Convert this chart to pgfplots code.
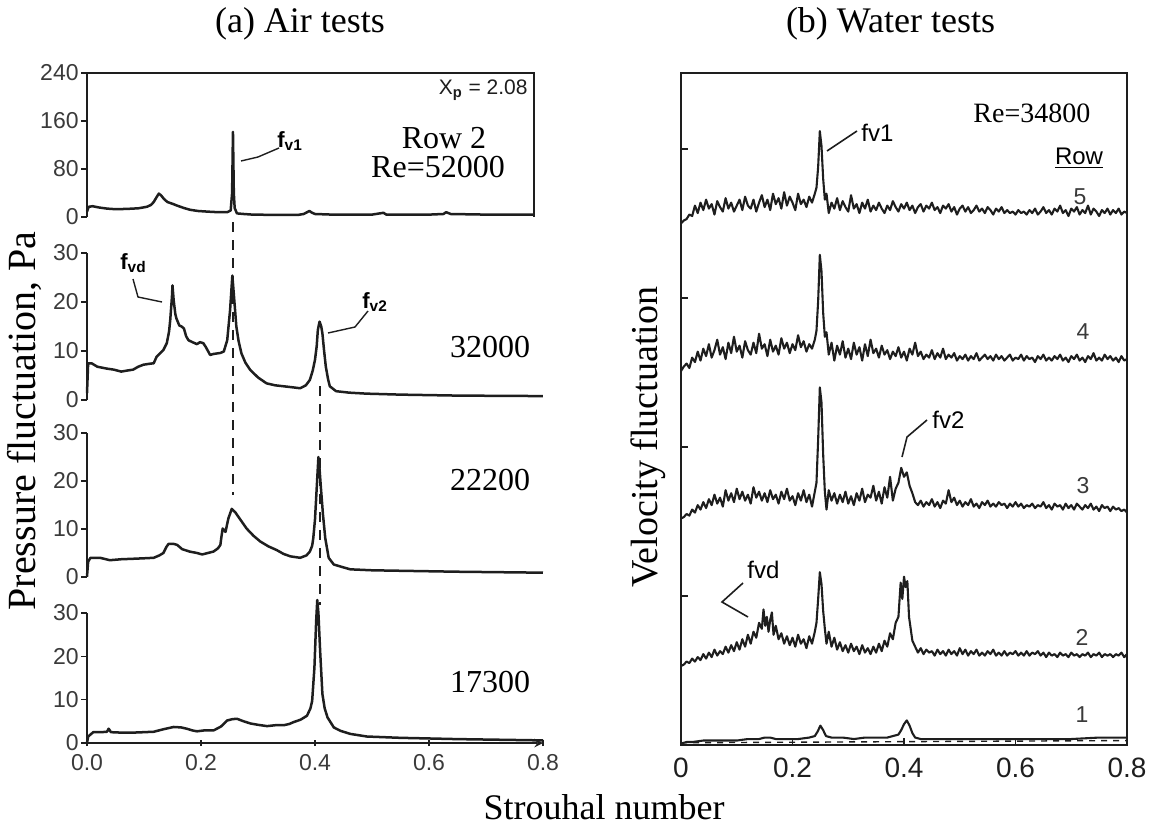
\documentclass[border=0pt]{standalone}
\usepackage{fontspec}
\setmainfont{Liberation Serif}
\newfontfamily\arial{Liberation Sans}
\usepackage{pgfplots}
\usepackage{pgfplotstable}
\pgfplotsset{compat=1.18}
\definecolor{ink}{HTML}{1E1E1E}
\definecolor{tickc}{HTML}{3A3A3A}

\pgfplotstableread{
x y
0 3.50
0.005 3.52
0.01 3.53
0.015 3.56
0.02 3.55
0.025 3.62
0.03 3.57
0.035 3.64
0.04 3.59
0.045 3.66
0.05 3.60
0.055 3.63
0.06 3.56
0.065 3.65
0.07 3.61
0.075 3.58
0.08 3.67
0.085 3.60
0.09 3.64
0.095 3.58
0.1 3.62
0.105 3.66
0.11 3.59
0.115 3.68
0.12 3.62
0.125 3.60
0.13 3.66
0.135 3.58
0.14 3.64
0.145 3.69
0.15 3.61
0.155 3.66
0.16 3.59
0.165 3.70
0.17 3.63
0.175 3.67
0.18 3.60
0.185 3.71
0.19 3.62
0.195 3.68
0.2 3.64
0.205 3.59
0.21 3.70
0.215 3.63
0.22 3.66
0.225 3.61
0.23 3.68
0.235 3.64
0.24 3.70
0.243 3.74
0.246 3.88
0.249 4.12
0.252 4.02
0.255 3.80
0.258 3.66
0.261 3.70
0.265 3.57
0.27 3.64
0.275 3.60
0.28 3.67
0.285 3.59
0.29 3.65
0.295 3.61
0.3 3.58
0.305 3.69
0.31 3.60
0.315 3.63
0.32 3.57
0.325 3.64
0.33 3.60
0.335 3.66
0.34 3.58
0.345 3.62
0.35 3.59
0.355 3.64
0.36 3.60
0.365 3.57
0.37 3.62
0.375 3.59
0.38 3.65
0.385 3.61
0.39 3.58
0.395 3.63
0.4 3.60
0.405 3.64
0.41 3.59
0.415 3.62
0.42 3.57
0.425 3.61
0.43 3.63
0.435 3.58
0.44 3.62
0.445 3.60
0.45 3.64
0.455 3.59
0.46 3.61
0.465 3.57
0.47 3.62
0.475 3.60
0.48 3.63
0.485 3.58
0.49 3.61
0.495 3.56
0.5 3.60
0.505 3.62
0.51 3.58
0.515 3.61
0.52 3.57
0.525 3.59
0.53 3.62
0.535 3.58
0.54 3.60
0.545 3.57
0.55 3.61
0.555 3.59
0.56 3.56
0.565 3.60
0.57 3.58
0.575 3.61
0.58 3.57
0.585 3.59
0.59 3.57
0.595 3.58
0.6 3.56
0.605 3.59
0.61 3.57
0.615 3.58
0.62 3.56
0.625 3.59
0.63 3.57
0.635 3.60
0.64 3.56
0.645 3.58
0.65 3.61
0.655 3.57
0.66 3.59
0.665 3.56
0.67 3.60
0.675 3.58
0.68 3.62
0.685 3.57
0.69 3.59
0.695 3.55
0.7 3.60
0.705 3.58
0.71 3.61
0.715 3.56
0.72 3.59
0.725 3.57
0.73 3.62
0.735 3.56
0.74 3.60
0.745 3.58
0.75 3.55
0.755 3.59
0.76 3.57
0.765 3.60
0.77 3.56
0.775 3.59
0.78 3.57
0.785 3.60
0.79 3.56
0.795 3.58
0.8 3.57
}\rowfive

\pgfplotstableread{
x y
0 2.51
0.005 2.54
0.01 2.56
0.015 2.53
0.02 2.60
0.025 2.57
0.03 2.64
0.035 2.58
0.04 2.66
0.045 2.61
0.05 2.69
0.055 2.60
0.06 2.65
0.065 2.72
0.07 2.62
0.075 2.67
0.08 2.59
0.085 2.70
0.09 2.63
0.095 2.74
0.1 2.64
0.105 2.68
0.11 2.60
0.115 2.71
0.12 2.65
0.125 2.62
0.13 2.70
0.135 2.63
0.14 2.76
0.145 2.66
0.15 2.69
0.155 2.61
0.16 2.72
0.165 2.64
0.17 2.68
0.175 2.62
0.18 2.73
0.185 2.66
0.19 2.70
0.195 2.63
0.2 2.69
0.205 2.65
0.21 2.75
0.215 2.67
0.22 2.71
0.225 2.64
0.23 2.69
0.235 2.66
0.24 2.72
0.243 2.78
0.246 2.98
0.249 3.29
0.252 3.18
0.255 2.90
0.258 2.74
0.261 2.77
0.265 2.62
0.27 2.70
0.275 2.58
0.28 2.68
0.285 2.62
0.29 2.71
0.295 2.60
0.3 2.66
0.305 2.59
0.31 2.70
0.315 2.62
0.32 2.67
0.325 2.58
0.33 2.69
0.335 2.61
0.34 2.72
0.345 2.63
0.35 2.66
0.355 2.60
0.36 2.68
0.365 2.62
0.37 2.65
0.375 2.59
0.38 2.64
0.385 2.61
0.39 2.67
0.395 2.60
0.4 2.64
0.405 2.58
0.41 2.66
0.415 2.62
0.42 2.70
0.425 2.61
0.43 2.64
0.435 2.59
0.44 2.62
0.445 2.60
0.45 2.65
0.455 2.59
0.46 2.63
0.465 2.60
0.47 2.66
0.475 2.59
0.48 2.62
0.485 2.60
0.49 2.63
0.495 2.58
0.5 2.61
0.505 2.59
0.51 2.62
0.515 2.58
0.52 2.61
0.525 2.59
0.53 2.63
0.535 2.58
0.54 2.60
0.545 2.62
0.55 2.59
0.555 2.61
0.56 2.58
0.565 2.62
0.57 2.59
0.575 2.61
0.58 2.58
0.585 2.60
0.59 2.62
0.595 2.58
0.6 2.60
0.605 2.59
0.61 2.62
0.615 2.58
0.62 2.61
0.625 2.59
0.63 2.60
0.635 2.57
0.64 2.61
0.645 2.59
0.65 2.62
0.655 2.58
0.66 2.60
0.665 2.58
0.67 2.61
0.675 2.59
0.68 2.62
0.685 2.58
0.69 2.60
0.695 2.57
0.7 2.61
0.705 2.59
0.71 2.62
0.715 2.58
0.72 2.60
0.725 2.57
0.73 2.61
0.735 2.59
0.74 2.63
0.745 2.58
0.75 2.60
0.755 2.58
0.76 2.62
0.765 2.59
0.77 2.61
0.775 2.58
0.78 2.60
0.785 2.57
0.79 2.61
0.795 2.58
0.8 2.59
}\rowfour

\pgfplotstableread{
x y
0 1.52
0.005 1.53
0.01 1.55
0.015 1.54
0.02 1.58
0.025 1.56
0.03 1.61
0.035 1.58
0.04 1.63
0.045 1.59
0.05 1.65
0.055 1.61
0.06 1.68
0.065 1.62
0.07 1.66
0.075 1.60
0.08 1.71
0.085 1.64
0.09 1.69
0.095 1.63
0.1 1.72
0.105 1.65
0.11 1.70
0.115 1.64
0.12 1.68
0.125 1.62
0.13 1.73
0.135 1.66
0.14 1.70
0.145 1.64
0.15 1.69
0.155 1.63
0.16 1.71
0.165 1.65
0.17 1.68
0.175 1.62
0.18 1.70
0.185 1.65
0.19 1.72
0.195 1.64
0.2 1.67
0.205 1.61
0.21 1.69
0.215 1.64
0.22 1.71
0.225 1.63
0.23 1.68
0.235 1.60
0.24 1.70
0.243 1.76
0.246 2.05
0.249 2.40
0.252 2.30
0.255 1.95
0.258 1.70
0.261 1.58
0.265 1.71
0.27 1.64
0.275 1.69
0.28 1.62
0.285 1.68
0.29 1.63
0.295 1.70
0.3 1.62
0.305 1.67
0.31 1.61
0.315 1.69
0.32 1.64
0.325 1.72
0.33 1.63
0.335 1.68
0.34 1.66
0.345 1.74
0.35 1.64
0.355 1.70
0.36 1.62
0.365 1.73
0.37 1.66
0.375 1.80
0.38 1.64
0.385 1.72
0.39 1.76
0.395 1.86
0.4 1.80
0.405 1.83
0.41 1.74
0.415 1.69
0.42 1.63
0.425 1.61
0.43 1.64
0.435 1.60
0.44 1.63
0.445 1.61
0.45 1.65
0.455 1.60
0.46 1.63
0.465 1.59
0.47 1.64
0.475 1.62
0.48 1.71
0.485 1.63
0.49 1.66
0.495 1.61
0.5 1.64
0.505 1.60
0.51 1.63
0.515 1.61
0.52 1.65
0.525 1.60
0.53 1.62
0.535 1.59
0.54 1.63
0.545 1.61
0.55 1.64
0.555 1.60
0.56 1.62
0.565 1.60
0.57 1.63
0.575 1.61
0.58 1.62
0.585 1.59
0.59 1.62
0.595 1.60
0.6 1.63
0.605 1.60
0.61 1.62
0.615 1.59
0.62 1.61
0.625 1.60
0.63 1.62
0.635 1.59
0.64 1.61
0.645 1.60
0.65 1.63
0.655 1.59
0.66 1.61
0.665 1.58
0.67 1.62
0.675 1.60
0.68 1.61
0.685 1.58
0.69 1.62
0.695 1.59
0.7 1.61
0.705 1.58
0.71 1.62
0.715 1.60
0.72 1.58
0.725 1.61
0.73 1.59
0.735 1.62
0.74 1.58
0.745 1.60
0.75 1.57
0.755 1.61
0.76 1.59
0.765 1.60
0.77 1.57
0.775 1.60
0.78 1.58
0.785 1.59
0.79 1.57
0.795 1.58
0.8 1.56
}\rowthree

\pgfplotstableread{
x y
0 0.53
0.005 0.54
0.01 0.56
0.015 0.55
0.02 0.58
0.025 0.56
0.03 0.59
0.035 0.57
0.04 0.61
0.045 0.58
0.05 0.62
0.055 0.59
0.06 0.64
0.065 0.60
0.07 0.63
0.075 0.61
0.08 0.66
0.085 0.62
0.09 0.67
0.095 0.63
0.1 0.69
0.105 0.64
0.11 0.71
0.115 0.66
0.12 0.74
0.125 0.68
0.13 0.76
0.135 0.72
0.14 0.82
0.145 0.78
0.148 0.91
0.151 0.80
0.154 0.86
0.157 0.76
0.16 0.84
0.163 0.89
0.166 0.74
0.17 0.80
0.175 0.71
0.18 0.75
0.185 0.68
0.19 0.73
0.195 0.67
0.2 0.72
0.205 0.66
0.21 0.74
0.215 0.68
0.22 0.71
0.225 0.65
0.23 0.73
0.235 0.68
0.24 0.76
0.243 0.82
0.246 0.98
0.249 1.16
0.252 1.08
0.255 0.90
0.258 0.78
0.261 0.68
0.265 0.76
0.27 0.66
0.275 0.72
0.28 0.64
0.285 0.69
0.29 0.63
0.295 0.67
0.3 0.62
0.305 0.68
0.31 0.63
0.315 0.66
0.32 0.61
0.325 0.67
0.33 0.62
0.335 0.65
0.34 0.61
0.345 0.66
0.35 0.62
0.355 0.68
0.36 0.63
0.365 0.70
0.37 0.66
0.375 0.75
0.38 0.71
0.385 0.82
0.39 0.86
0.394 1.09
0.397 0.98
0.4 1.13
0.403 1.06
0.406 1.10
0.409 0.86
0.412 0.78
0.415 0.70
0.42 0.66
0.425 0.62
0.43 0.65
0.435 0.61
0.44 0.64
0.445 0.62
0.45 0.63
0.455 0.60
0.46 0.64
0.465 0.61
0.47 0.63
0.475 0.60
0.48 0.64
0.485 0.61
0.49 0.63
0.495 0.60
0.5 0.65
0.505 0.61
0.51 0.64
0.515 0.60
0.52 0.63
0.525 0.61
0.53 0.64
0.535 0.60
0.54 0.62
0.545 0.60
0.55 0.63
0.555 0.61
0.56 0.64
0.565 0.60
0.57 0.62
0.575 0.60
0.58 0.63
0.585 0.60
0.59 0.62
0.595 0.61
0.6 0.63
0.605 0.60
0.61 0.62
0.615 0.60
0.62 0.63
0.625 0.60
0.63 0.62
0.635 0.61
0.64 0.63
0.645 0.60
0.65 0.62
0.655 0.59
0.66 0.62
0.665 0.60
0.67 0.61
0.675 0.59
0.68 0.62
0.685 0.60
0.69 0.61
0.695 0.59
0.7 0.62
0.705 0.60
0.71 0.61
0.715 0.59
0.72 0.61
0.725 0.60
0.73 0.62
0.735 0.59
0.74 0.61
0.745 0.60
0.75 0.62
0.755 0.59
0.76 0.61
0.765 0.60
0.77 0.61
0.775 0.59
0.78 0.61
0.785 0.60
0.79 0.62
0.795 0.59
0.8 0.61
}\rowtwo

\pgfplotsset{
  lp/.style={draw=ink, line width=1.25pt, line join=round, mark=none},
  rp/.style={draw=ink, line width=1.05pt, line join=round, mark=none},
  leftax/.style={
    scale only axis, width=228pt, xmin=0, xmax=0.8, ymin=0,
    axis y line=left,
    axis line style={-, line width=0.9pt, draw=ink},
    tick align=outside, major tick length=3pt,
    tick style={line width=0.8pt, draw=ink},
    yticklabel style={font=\arial\fontsize{11.5}{12}\selectfont, text=tickc, inner sep=1pt},
    /pgf/number format/assume math mode=true,
    clip=false,
  },
}

\begin{document}
\begin{tikzpicture}
\path[use as bounding box] (0,0) rectangle (577.5pt,413.5pt);

% ---------- (a) top: Re=52000
\begin{axis}[leftax, axis x line=none, at={(43.5pt,305pt)}, anchor=south west,
  width=223.5pt, xmax=0.784, height=72pt, ymax=240, ytick={0,80,160,240}]
\addplot[lp] coordinates {(0,9)(0.003,17)(0.01,18)(0.02,16)(0.035,14)(0.05,13)(0.07,13.5)(0.09,14.5)(0.105,17)(0.112,20)(0.117,25)(0.122,33)(0.126,39)(0.13,36)(0.135,30)(0.141,25)(0.15,22)(0.158,19)(0.17,15)(0.181,12)(0.195,10)(0.211,9)(0.23,8)(0.246,8)(0.252,11)(0.2545,40)(0.256,142)(0.2575,40)(0.259,15)(0.263,6)(0.275,5)(0.29,4)(0.33,3.5)(0.37,3.5)(0.38,5)(0.39,10)(0.395,7)(0.40,5)(0.43,4)(0.5,4)(0.52,7)(0.525,4)(0.6,4)(0.625,5)(0.63,8)(0.638,5)(0.7,4)(0.784,4)};
\draw[line width=0.9pt, ink] (rel axis cs:0,1) -- (rel axis cs:1,1) -- (rel axis cs:1,0);
\end{axis}

% ---------- (a) 32000
\begin{axis}[leftax, axis x line=none, at={(43.5pt,213.5pt)}, anchor=south west,
  height=73.5pt, ymax=30, ytick={0,10,20,30}]
\addplot[lp] coordinates {(0,1.4)(0.002,7.5)(0.008,7.5)(0.018,6.8)(0.035,6.4)(0.047,6.2)(0.06,5.8)(0.07,6.0)(0.081,6.2)(0.09,6.8)(0.099,7.2)(0.11,7.4)(0.117,7.5)(0.122,8.8)(0.128,9.5)(0.134,10.2)(0.14,11.6)(0.144,14)(0.146,16.3)(0.149,21)(0.150,23.4)(0.152,20.4)(0.155,17.5)(0.157,16.6)(0.162,15.2)(0.166,15)(0.170,14.6)(0.174,13)(0.178,12.2)(0.185,11.8)(0.193,11.4)(0.198,11.8)(0.204,11.6)(0.208,10.9)(0.216,9.2)(0.222,9.4)(0.228,9.5)(0.234,9.6)(0.240,9.9)(0.246,12.2)(0.251,18.3)(0.255,25.4)(0.258,21)(0.262,15)(0.266,12)(0.271,9.5)(0.278,7.6)(0.286,6.2)(0.30,4.6)(0.315,3.4)(0.33,3.0)(0.345,2.8)(0.36,2.6)(0.374,2.4)(0.384,3.0)(0.391,4.1)(0.396,6)(0.400,8.2)(0.403,11)(0.405,14.3)(0.408,16)(0.411,15)(0.413,13.6)(0.416,10)(0.419,6.8)(0.423,4.2)(0.426,2.8)(0.437,1.8)(0.46,1.5)(0.49,1.3)(0.549,1.1)(0.65,0.9)(0.8,0.8)};
\end{axis}

% ---------- (a) 22200
\begin{axis}[leftax, axis x line=none, at={(43.5pt,125pt)}, anchor=south west,
  height=72pt, ymax=30, ytick={0,10,20,30}]
\addplot[lp] coordinates {(0,0.1)(0.002,3.2)(0.006,4.0)(0.023,4.0)(0.04,3.5)(0.06,3.7)(0.081,3.8)(0.1,3.9)(0.117,4.0)(0.127,4.5)(0.134,5.0)(0.139,6.2)(0.143,6.9)(0.152,6.9)(0.158,6.7)(0.167,5.8)(0.18,5.3)(0.193,5.0)(0.202,4.7)(0.212,5.0)(0.222,5.3)(0.230,6.0)(0.234,6.7)(0.236,8.5)(0.238,10.1)(0.243,9.4)(0.248,12.2)(0.254,14.2)(0.260,13.5)(0.270,11.8)(0.280,10.1)(0.292,8.6)(0.304,7.4)(0.318,6.4)(0.333,5.6)(0.345,4.8)(0.357,4.3)(0.374,4.0)(0.385,4.5)(0.391,5.3)(0.395,6.5)(0.397,8.1)(0.400,12)(0.403,18.5)(0.406,25)(0.408,22.5)(0.410,19.2)(0.414,13)(0.418,8.1)(0.424,4.0)(0.433,2.6)(0.45,2.0)(0.462,1.6)(0.5,1.4)(0.549,1.3)(0.65,1.1)(0.8,0.9)};
\end{axis}

% ---------- (a) 17300
\begin{axis}[leftax, axis x line=bottom, at={(43.5pt,42pt)}, anchor=south west,
  height=65pt, ymax=30, ytick={0,10,20,30},
  xtick={0,0.2,0.4,0.6,0.8}, xticklabels={0.0,0.2,0.4,0.6,0.8},
  xticklabel style={font=\arial\fontsize{11.5}{12}\selectfont, text=tickc, inner sep=1pt, yshift=-3pt}]
\addplot[lp] coordinates {(0,0)(0.002,1.5)(0.011,2.5)(0.025,2.5)(0.035,2.6)(0.038,3.3)(0.042,2.5)(0.06,2.4)(0.081,2.4)(0.1,2.5)(0.117,2.6)(0.135,3.2)(0.152,3.7)(0.165,3.6)(0.175,3.3)(0.185,2.9)(0.193,2.7)(0.205,2.9)(0.222,2.9)(0.235,3.8)(0.246,5.2)(0.255,5.5)(0.263,5.6)(0.275,5.0)(0.287,4.5)(0.300,4.2)(0.316,3.9)(0.330,4.1)(0.345,4.1)(0.355,4.4)(0.362,4.8)(0.375,5.4)(0.386,6.3)(0.392,8.0)(0.395,9.7)(0.399,17.4)(0.402,28)(0.404,33)(0.406,30)(0.409,21.3)(0.413,11.3)(0.417,8)(0.422,5.9)(0.433,3.6)(0.445,2.8)(0.462,2.1)(0.491,1.5)(0.549,1.2)(0.65,0.9)(0.8,0.6)};
\end{axis}

% ---------- (b) Water tests
\begin{axis}[at={(340.5pt,41pt)}, anchor=south west, scale only axis,
  width=223pt, height=336pt, xmin=0, xmax=0.8, ymin=0, ymax=4.51,
  axis line style={line width=0.9pt, draw=ink},
  xtick={0,0.2,0.4,0.6,0.8}, xticklabels={0,0.2,0.4,0.6,0.8},
  ytick={1,2,3,4}, yticklabels={},
  xtick pos=bottom, ytick pos=left, tick align=inside, major tick length=3.5pt,
  tick style={line width=0.8pt, draw=ink},
  xticklabel style={font=\arial\fontsize{14}{15}\selectfont, text=ink, yshift=-3pt},
  /pgf/number format/assume math mode=true,
  clip=false]
\addplot[rp] table[x=x,y=y] {\rowfive};
\addplot[rp] table[x=x,y=y] {\rowfour};
\addplot[rp] table[x=x,y=y] {\rowthree};
\addplot[rp] table[x=x,y=y] {\rowtwo};
\addplot[rp] coordinates {(0,0.01)(0.01,0.02)(0.02,0.02)(0.04,0.03)(0.06,0.03)(0.08,0.03)(0.1,0.03)(0.12,0.04)(0.14,0.04)(0.15,0.05)(0.16,0.05)(0.17,0.04)(0.19,0.04)(0.21,0.04)(0.23,0.05)(0.24,0.06)(0.245,0.09)(0.25,0.13)(0.255,0.10)(0.26,0.06)(0.27,0.05)(0.29,0.05)(0.31,0.04)(0.33,0.05)(0.35,0.05)(0.37,0.05)(0.38,0.06)(0.39,0.07)(0.395,0.10)(0.4,0.14)(0.405,0.165)(0.41,0.13)(0.415,0.08)(0.42,0.05)(0.43,0.04)(0.45,0.04)(0.5,0.04)(0.55,0.04)(0.6,0.04)(0.65,0.04)(0.7,0.04)(0.75,0.05)(0.8,0.05)};
\addplot[draw=ink, line width=0.7pt, dashed, mark=none] coordinates {(0,0.015)(0.8,0.03)};
\end{axis}

% ---------- annotations (pixel grid of the reference)
\begin{scope}[x=0.5pt, y=-0.5pt, shift={(0pt,413.5pt)}]
\node[anchor=base, font=\fontsize{18}{20}\selectfont] at (300,33) {(a) Air tests};
\node[anchor=base, font=\fontsize{18}{20}\selectfont] at (890.5,33) {(b) Water tests};
\node[rotate=90, font=\fontsize{20}{22}\selectfont] at (24,421) {Pressure fluctuation, Pa};
\node[rotate=90, font=\fontsize{19}{21}\selectfont] at (648,437) {Velocity fluctuation};
\node[anchor=base, font=\fontsize{18}{20}\selectfont] at (604,819) {Strouhal number};

\draw[ink, line width=0.7pt, dash pattern=on 5pt off 4pt] (233,222) -- (233,495);
\draw[ink, line width=0.7pt, dash pattern=on 5pt off 4pt] (320,386) -- (320,605);

\node[anchor=east, font=\arial\fontsize{10.5}{12}\selectfont, text=ink, inner sep=0pt] at (528,90) {X\textsubscript{\textbf{p}} = 2.08};
\node[anchor=base, font=\fontsize{16}{18}\selectfont] at (444,148) {Row 2};
\node[anchor=base, font=\fontsize{16}{18}\selectfont] at (438,177) {Re=52000};
\node[anchor=base, font=\fontsize{16}{18}\selectfont] at (490,357) {32000};
\node[anchor=base, font=\fontsize{16}{18}\selectfont] at (490,490) {22200};
\node[anchor=base, font=\fontsize{16}{18}\selectfont] at (490,692) {17300};

\node[anchor=west, font=\arial\bfseries\fontsize{11}{12}\selectfont, inner sep=0pt] at (277,141) {f\textsubscript{v1}};
\draw[ink, line width=0.7pt] (241,161) -- (258,157) -- (279,148);
\node[anchor=west, font=\arial\bfseries\fontsize{11}{12}\selectfont, inner sep=0pt] at (120,263) {f\textsubscript{vd}};
\draw[ink, line width=0.7pt] (133,279) -- (138,297) -- (162,302);
\node[anchor=west, font=\arial\bfseries\fontsize{11}{12}\selectfont, inner sep=0pt] at (362,302) {f\textsubscript{v2}};
\draw[ink, line width=0.7pt] (368,311) -- (355,327) -- (328,333);

\node[anchor=base west, font=\fontsize{14}{16}\selectfont, inner sep=0pt] at (973,122) {Re=34800};
\node[anchor=west, font=\arial\fontsize{12}{14}\selectfont, inner sep=0pt] at (861,133) {fv1};
\draw[ink, line width=0.8pt] (827,151) -- (857,131);
\node[anchor=base, font=\arial\fontsize{12}{14}\selectfont, inner sep=0pt] at (1079,164) {\underline{Row}};
\node[font=\arial\fontsize{11.5}{13}\selectfont, text=tickc] at (1080,197) {5};
\node[font=\arial\fontsize{11.5}{13}\selectfont, text=tickc] at (1083,332) {4};
\node[font=\arial\fontsize{11.5}{13}\selectfont, text=tickc] at (1083,486) {3};
\node[font=\arial\fontsize{11.5}{13}\selectfont, text=tickc] at (1082,637) {2};
\node[font=\arial\fontsize{11.5}{13}\selectfont, text=tickc] at (1082,715) {1};
\node[anchor=west, font=\arial\fontsize{12}{14}\selectfont, inner sep=0pt] at (932,420) {fv2};
\draw[ink, line width=0.8pt] (902,457) -- (907,437) -- (927,420);
\node[anchor=west, font=\arial\fontsize{12}{14}\selectfont, inner sep=0pt] at (747,570) {fvd};
\draw[ink, line width=0.8pt] (743,583) -- (722,602) -- (748,617);
\end{scope}
\end{tikzpicture}
\end{document}
